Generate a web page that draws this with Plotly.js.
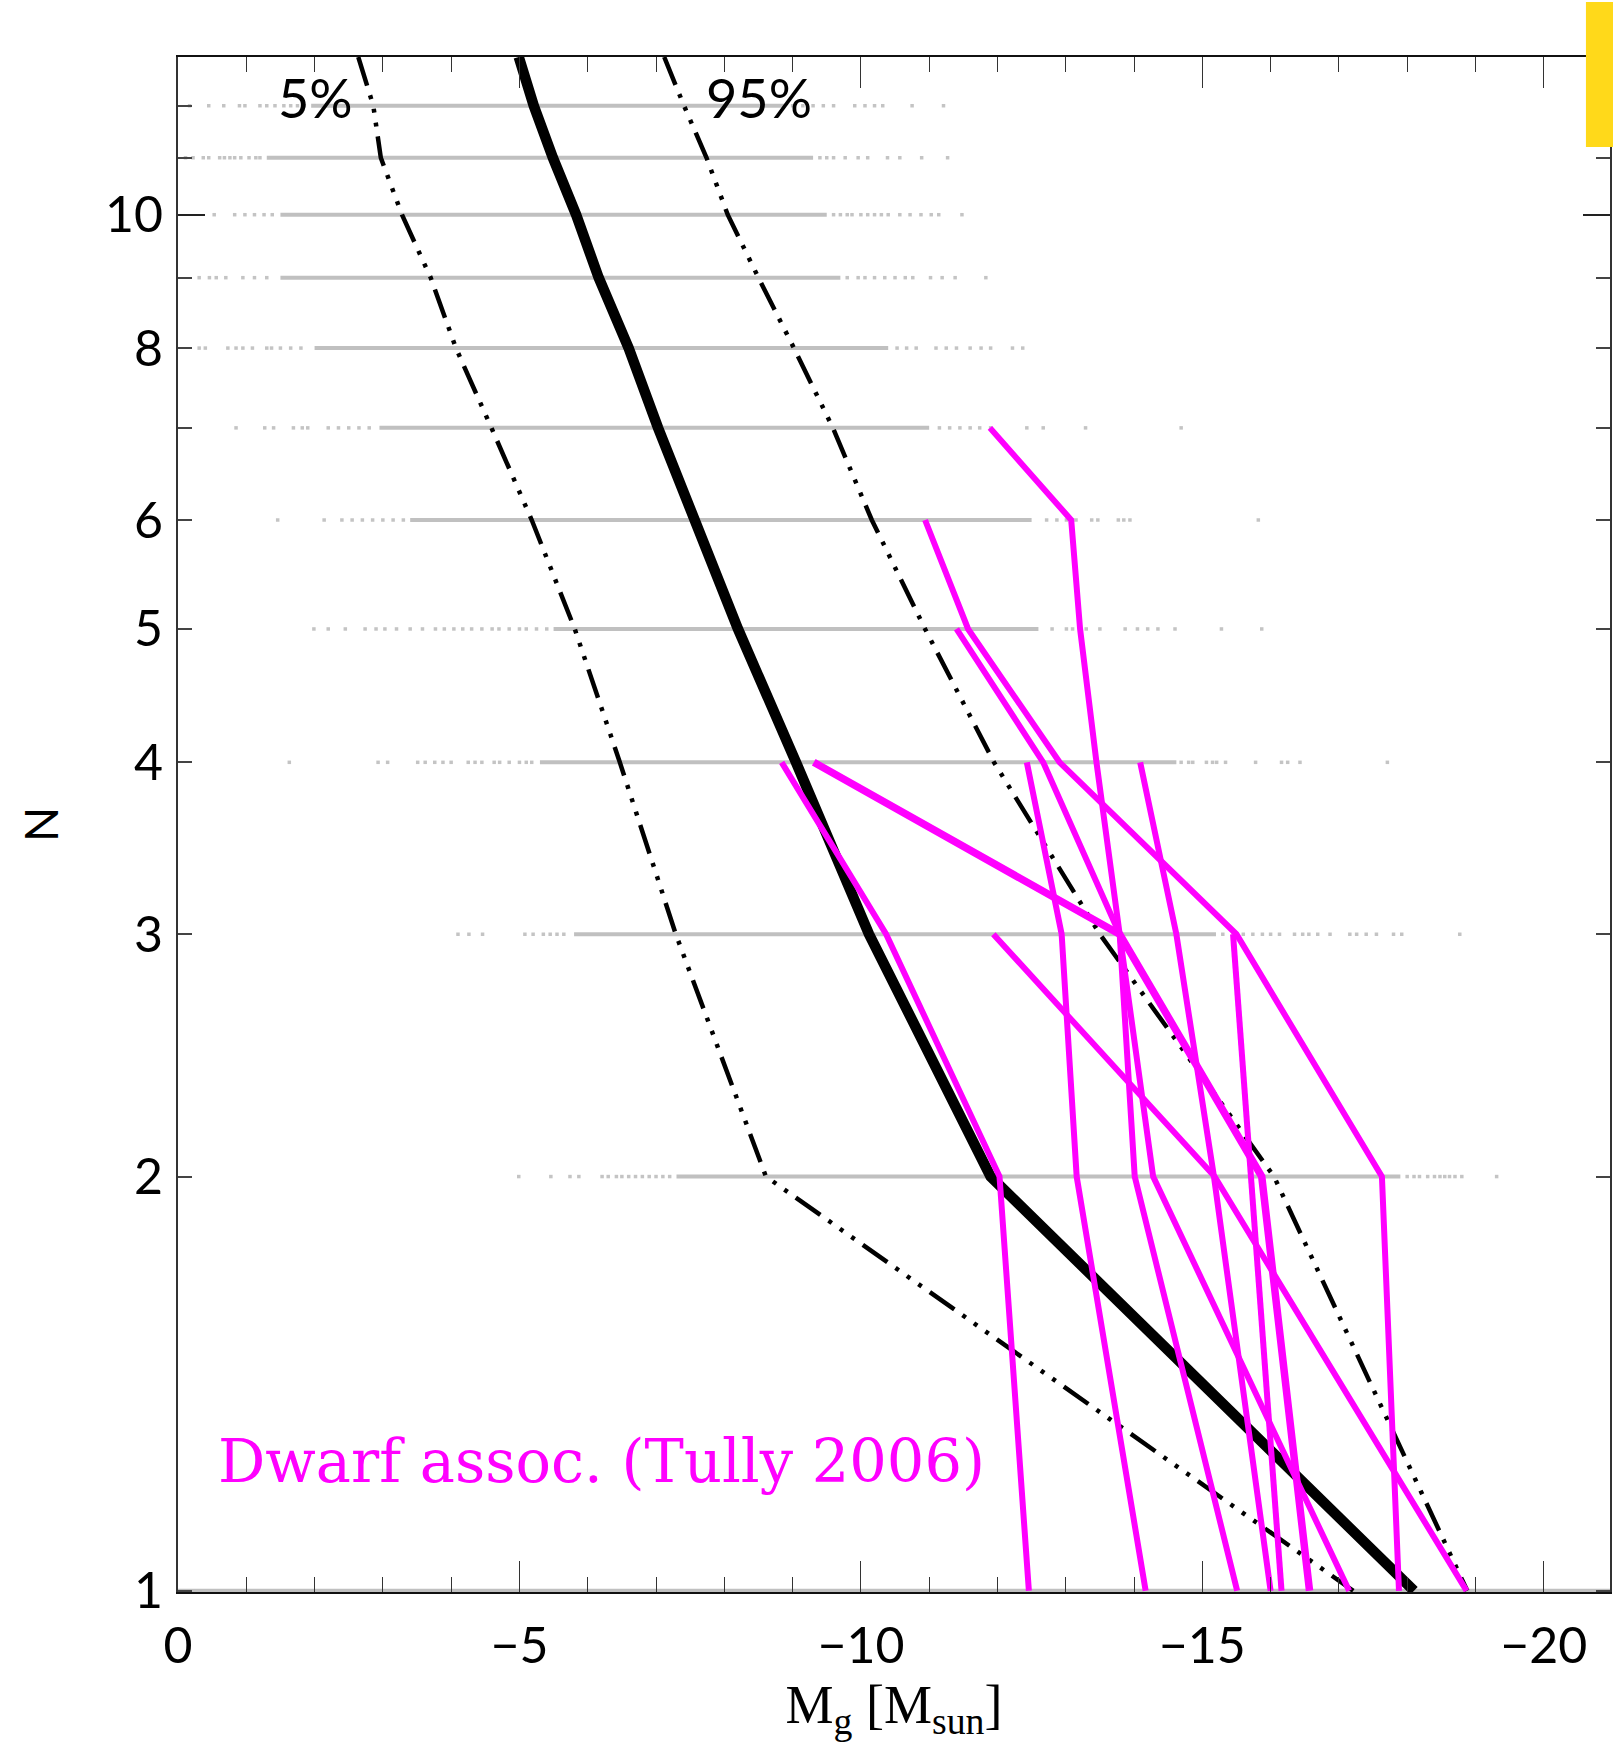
<!DOCTYPE html>
<html><head><meta charset="utf-8">
<script src="https://cdn.plot.ly/plotly-3.0.1.min.js"></script>
<style>html,body{margin:0;padding:0;background:#fff;} #chart{width:1613px;height:1752px;}</style>
</head><body><div id="chart"></div>
<script>
// ---------------- data ----------------
// grey simulated rows: integer N, dense (solid) part and sparse points
const rowN = [12, 11, 10, 9, 8, 7, 6, 5, 4, 3, 2, 1];
const rowSolidFrom = [-1.95, -1.3, -1.5, -1.5, -2.0, -2.95, -3.4, -5.5, -5.3, -5.8, -7.3, 0];
const rowSolidTo = [-8.9, -9.3, -9.5, -9.7, -10.4, -11.0, -12.5, -12.6, -14.62, -15.2, -17.9, -21];
const rowDots12 = [-0.17,-0.45,-0.67,-0.9,-0.98,-1.2,-1.3,-1.42,-1.55,-1.65,-1.75,-1.85,-9.0,-9.15,-9.3,-9.45,-9.6,-9.91,-10.06,-10.2,-10.32,-10.75,-11.21];
const rowDots11 = [-0.11,-0.22,-0.37,-0.45,-0.61,-0.68,-0.76,-0.83,-0.92,-1.04,-1.14,-1.2,-9.4,-9.5,-9.6,-9.77,-9.96,-10.1,-10.39,-10.57,-10.89,-11.27];
const rowDots10 = [-0.53,-0.83,-0.98,-1.12,-1.26,-1.38,-9.6,-9.7,-9.8,-9.87,-10.0,-10.1,-10.2,-10.3,-10.4,-10.57,-10.72,-10.88,-11.03,-11.14,-11.48];
const rowDots9 = [-0.31,-0.46,-0.56,-0.7,-0.95,-1.12,-1.3,-9.8,-9.96,-10.06,-10.2,-10.35,-10.5,-10.65,-10.76,-11.02,-11.19,-11.38,-11.83];
const rowDots8 = [-0.31,-0.4,-0.73,-0.85,-0.95,-1.09,-1.3,-1.37,-1.5,-1.65,-1.8,-10.53,-10.67,-10.81,-11.1,-11.25,-11.4,-11.6,-11.76,-11.9,-12.22,-12.37];
const rowDots7 = [-0.85,-1.27,-1.4,-1.69,-1.82,-1.9,-2.2,-2.35,-2.5,-2.65,-2.8,-11.15,-11.3,-11.45,-11.6,-11.74,-11.9,-12.43,-12.67,-13.29,-14.69];
const rowDots6 = [-1.46,-2.14,-2.4,-2.55,-2.7,-2.85,-3.0,-3.15,-3.3,-12.72,-12.87,-13.01,-13.1,-13.15,-13.38,-13.47,-13.77,-13.85,-13.94,-15.82];
const rowDots5 = [-1.99,-2.2,-2.45,-2.74,-2.9,-3.03,-3.2,-3.4,-3.58,-3.77,-3.9,-4.04,-4.17,-4.3,-4.45,-4.6,-4.7,-4.85,-5.0,-5.1,-5.25,-5.4,-12.8,-13.01,-13.1,-13.3,-13.5,-13.87,-14.05,-14.2,-14.35,-14.6,-15.28,-15.87];
const rowDots4 = [-1.63,-2.93,-3.07,-3.51,-3.62,-3.76,-3.88,-4.0,-4.25,-4.35,-4.45,-4.63,-4.71,-4.85,-5.0,-5.1,-5.18,-14.69,-14.8,-14.86,-15.06,-15.15,-15.21,-15.34,-15.78,-16.16,-16.25,-16.43,-17.71];
const rowDots3 = [-4.1,-4.26,-4.46,-5.08,-5.2,-5.35,-5.45,-5.55,-5.65,-15.3,-15.45,-15.6,-15.74,-15.88,-16.0,-16.13,-16.35,-16.47,-16.56,-16.69,-16.87,-17.16,-17.26,-17.4,-17.55,-17.8,-17.92,-18.77];
const rowDots2 = [-4.99,-5.46,-5.74,-5.87,-6.21,-6.3,-6.42,-6.5,-6.6,-6.7,-6.8,-6.9,-7.0,-7.1,-7.2,-18.0,-18.1,-18.18,-18.3,-18.4,-18.48,-18.55,-18.62,-18.7,-18.8,-19.31];
const rowDots1 = [];
const rowDots = [rowDots12,rowDots11,rowDots10,rowDots9,rowDots8,rowDots7,rowDots6,rowDots5,rowDots4,rowDots3,rowDots2,rowDots1];

// percentile curves
const pctN = [13.02, 12, 11, 10, 9, 8, 7, 6, 5, 4, 3, 2, 1];
const p05 = [-2.64, -2.86, -2.97, -3.28, -3.70, -4.07, -4.59, -5.18, -5.81, -6.47, -7.29, -8.61, -17.21];
const p50 = [-4.99, -5.21, -5.49, -5.83, -6.16, -6.60, -7.03, -7.58, -8.20, -9.05, -10.12, -11.90, -18.10];
const p95 = [-7.12, -7.41, -7.74, -8.05, -8.50, -9.02, -9.59, -10.16, -10.94, -11.95, -13.50, -16.05, -18.88];

// dwarf associations (Tully 2006): Mg at N = ..., 3, 2, 1
const dwarfN = [7, 6, 5, 4, 3, 2, 1];
const dwarfA = [-11.89, -13.08, -13.21, -13.45, -13.79, -14.01, -15.51];
const dwarfB = [-10.94, -11.57, -12.91, -15.50, -17.63, -17.88];
const dwarfC = [-11.40, -12.67, -13.79, -14.28, -17.15];
const dwarfD = [-8.84, -10.37, -12.03, -12.46];
const dwarfE = [-9.31, -13.79, -15.87, -16.57];
const dwarfF = [-12.43, -12.94, -13.16, -14.17];
const dwarfG = [-14.09, -14.62, -15.17, -16.00];
const dwarfH = [-11.94, -15.18, -18.87];
const dwarfI = [-15.45, -15.72, -16.16];
const dwarfSets = [dwarfA, dwarfB, dwarfC, dwarfD, dwarfE, dwarfF, dwarfG, dwarfH, dwarfI];

const xTickVals = [0, -5, -10, -15, -20];
const xTickText = ['0', '\u22125', '\u221210', '\u221215', '\u221220'];
const yTickVals = [1, 2, 3, 4, 5, 6, 8, 10];
const yTickText = ['1', '2', '3', '4', '5', '6', '8', '10'];
const yMinorVals = [7, 9, 11, 12];

// ---------------- traces ----------------
const traces = [];
const grey = '#c0c0c0';
rowN.forEach((n, i) => {
  traces.push({x: [rowSolidFrom[i], rowSolidTo[i]], y: [n, n], mode: 'lines',
    line: {color: grey, width: 4}, hoverinfo: 'skip', showlegend: false});
});
const dx = [], dy = [];
rowN.forEach((n, i) => rowDots[i].forEach(v => { dx.push(v); dy.push(n); }));
traces.push({x: dx, y: dy, mode: 'markers', marker: {symbol: 'square', size: 3.5, color: '#c4c4c4', line: {width: 0}},
  hoverinfo: 'skip', showlegend: false});

const dashDot3 = '30px,10px,4px,10px,4px,10px,4px,10px';
traces.push({x: p05, y: pctN, mode: 'lines', line: {color: '#000', width: 4.5, dash: dashDot3}, showlegend: false});
traces.push({x: p95, y: pctN, mode: 'lines', line: {color: '#000', width: 4.5, dash: dashDot3}, showlegend: false});
traces.push({x: p50, y: pctN, mode: 'lines', line: {color: '#000', width: 10.5}, showlegend: false});

dwarfSets.forEach((m, i) => {
  const ns = dwarfN.slice(dwarfN.length - m.length);
  traces.push({x: m, y: ns, mode: 'lines', line: {color: '#ff00ff', width: i === 4 ? 7.5 : 6}, showlegend: false});
});

// invisible trace for second y-axis (long decade ticks)
traces.push({x: [0], y: [1], yaxis: 'y2', mode: 'markers', marker: {opacity: 0}, hoverinfo: 'skip', showlegend: false});

const tickFont = {family: 'Lato, "DejaVu Sans", sans-serif', size: 50, color: '#000'};
const yRange = [Math.log10(0.998), Math.log10(13.02)];

const layout = {
  width: 1613, height: 1752,
  margin: {l: 178, r: 3, t: 57, b: 160},
  paper_bgcolor: '#fff', plot_bgcolor: '#fff',
  showlegend: false,
  xaxis: {
    range: [0, -20.97], autorange: false,
    tickmode: 'array', tickvals: xTickVals, ticktext: xTickText,
    ticks: 'inside', ticklen: 31, tickwidth: 1, tickcolor: '#333',
    minor: {tickmode: 'linear', tick0: 0, dtick: 1, ticks: 'inside', ticklen: 15, tickwidth: 1, tickcolor: '#333', showgrid: false},
    showline: true, linecolor: '#111', linewidth: 2, mirror: 'ticks',
    showgrid: false, zeroline: false,
    tickfont: tickFont, ticklabelstandoff: 9,
    title: {text: 'M<sub>g</sub> [M<sub>sun</sub>]', font: {family: '"Liberation Serif", serif', size: 54, color: '#000'}, standoff: 12}
  },
  yaxis: {
    type: 'log', range: yRange, autorange: false,
    tickmode: 'array', tickvals: yTickVals, ticktext: yTickText,
    ticks: 'inside', ticklen: 14, tickwidth: 2, tickcolor: '#444',
    minor: {tickmode: 'array', tickvals: yMinorVals, ticks: 'inside', ticklen: 14, tickwidth: 2, tickcolor: '#444', showgrid: false},
    showline: true, linecolor: '#333', linewidth: 2, mirror: 'ticks',
    showgrid: false, zeroline: false,
    tickfont: tickFont, ticklabelstandoff: 3,
    title: {text: 'N', font: {family: 'Lato, "DejaVu Sans", sans-serif', size: 46, color: '#000'}, standoff: 32}
  },
  yaxis2: {
    type: 'log', range: yRange, autorange: false, overlaying: 'y', side: 'left',
    tickmode: 'array', tickvals: [10], showticklabels: false,
    ticks: 'inside', ticklen: 27, tickwidth: 2, tickcolor: '#222',
    showline: false, mirror: 'ticks', showgrid: false, zeroline: false
  },
  annotations: [
    {xref: 'paper', yref: 'paper', x: 0.0957, y: 0.9733, text: '5%', showarrow: false,
      xanchor: 'center', yanchor: 'middle', font: {family: 'Lato, "DejaVu Sans", sans-serif', size: 54, color: '#000'}},
    {xref: 'paper', yref: 'paper', x: 0.4057, y: 0.9733, text: '95%', showarrow: false,
      xanchor: 'center', yanchor: 'middle', font: {family: 'Lato, "DejaVu Sans", sans-serif', size: 54, color: '#000'}},
    {xref: 'paper', yref: 'paper', x: 0.296, y: 0.0853, text: 'Dwarf assoc. (Tully 2006)', showarrow: false,
      xanchor: 'center', yanchor: 'middle', font: {family: '"DejaVu Serif", serif', size: 59, color: '#ff00ff'}}
  ],
  shapes: [
    {type: 'rect', xref: 'paper', yref: 'paper', x0: 0.9832, x1: 1.0021, y0: 0.9414, y1: 1.0358,
      fillcolor: '#ffd91a', line: {width: 0}, layer: 'above'}
  ]
};

Plotly.newPlot('chart', traces, layout, {staticPlot: true, displayModeBar: false});
</script>
</body></html>
